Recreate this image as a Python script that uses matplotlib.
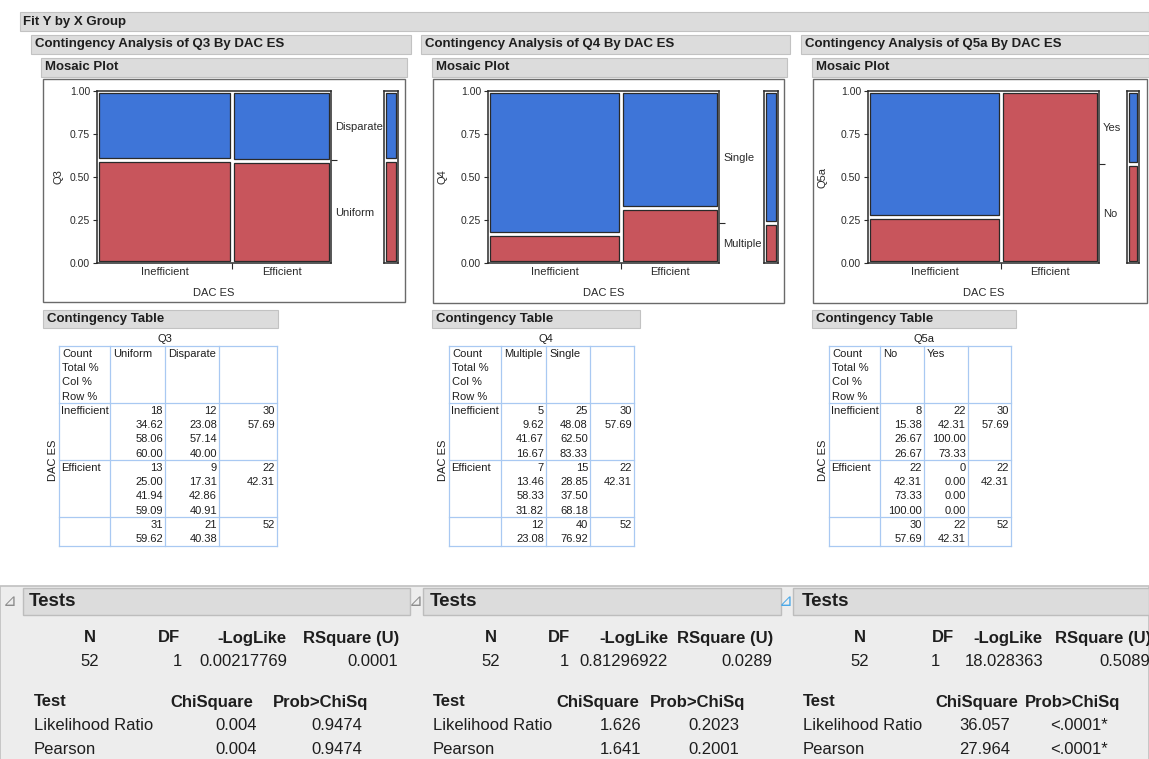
import matplotlib
matplotlib.use('Agg')
import matplotlib.pyplot as plt
from matplotlib.patches import Rectangle
import numpy as np

plt.rcParams['font.family'] = ['Liberation Sans', 'DejaVu Sans']

W, H = 1149, 759

# ---------------- data ----------------
groups = ['Inefficient', 'Efficient']
q3_levels = ['Uniform', 'Disparate']
q3_counts = [[18, 12], [13, 9]]
q4_levels = ['Multiple', 'Single']
q4_counts = [[5, 25], [7, 15]]
q5a_levels = ['No', 'Yes']
q5a_counts = [[8, 22], [22, 0]]
variables = ['Q3', 'Q4', 'Q5a']

tests_n = ['52', '52', '52']
tests_df = ['1', '1', '1']
tests_loglike = ['0.00217769', '0.81296922', '18.028363']
tests_rsq = ['0.0001', '0.0289', '0.5089']
lr_chisq = ['0.004', '1.626', '36.057']
lr_prob = ['0.9474', '0.2023', '<.0001*']
pearson_chisq = ['0.004', '1.641', '27.964']
pearson_prob = ['0.9474', '0.2001', '<.0001*']

BLUE = '#3e75d8'
RED = '#c8555c'
DARK = '#2a2a2a'
HDR = '#dcdcdc'
HDR_EDGE = '#c2c2c2'
GRID = '#a9c9f2'
TXT = '#1e1e1e'

# ---------------- layout (pixels) ----------------
layout = [
    dict(hdr=(31, 411), mhdr=(41, 407), frame=(43, 79, 405, 302), plot=(97, 331),
         marg=(384, 398), ylab=58, cthdr=(43, 278), cols=[59, 110, 165, 219, 277],
         tbar=(23, 410), tri=10, tricol='#8c8c8c', ttx=29,
         n=90, df=169, one=182, ll=287, rsq=399, test=34, chi_h=253, chi_v=257, pr_h=368, pr_v=362),
    dict(hdr=(421, 790), mhdr=(432, 787), frame=(433, 79, 784, 303), plot=(488, 719),
         marg=(764, 778), ylab=442, cthdr=(432, 640), cols=[449, 501, 546, 590, 634],
         tbar=(423, 781), tri=416, tricol='#8c8c8c', ttx=430,
         n=491, df=559, one=569, ll=668, rsq=773, test=433, chi_h=639, chi_v=641, pr_h=745, pr_v=739),
    dict(hdr=(801, 1149), mhdr=(812, 1149), frame=(813, 79, 1147, 303), plot=(868, 1099),
         marg=(1127, 1139), ylab=822, cthdr=(812, 1016), cols=[829, 880, 924, 968, 1011],
         tbar=(793, 1149), tri=786, tricol='#4aa8e8', ttx=802,
         n=860, df=943, one=940, ll=1043, rsq=1151, test=803, chi_h=1018, chi_v=1010, pr_h=1120, pr_v=1108),
]
PLOT_Y0, PLOT_Y1 = 91, 263

fig = plt.figure(figsize=(W / 100, H / 100), dpi=100)
fig.patch.set_facecolor('white')
bg = fig.add_axes([0, 0, 1, 1])
bg.set_xlim(0, W)
bg.set_ylim(H, 0)
bg.axis('off')


def rect(x0, y0, x1, y1, fc=HDR, ec=HDR_EDGE, lw=0.8, z=1):
    bg.add_patch(Rectangle((x0, y0), x1 - x0, y1 - y0, facecolor=fc, edgecolor=ec,
                           linewidth=lw, zorder=z))


def txt(x, y, s, size=8, weight='normal', ha='left', color=TXT, rot=0, family=None):
    kw = {}
    if family:
        kw['family'] = family
    bg.text(x, y, s, fontsize=size, fontweight=weight, ha=ha, va='center',
            color=color, rotation=rot, zorder=5, **kw)


def fig_rect(x0, y0, x1, y1):
    return [x0 / W, 1 - y1 / H, (x1 - x0) / W, (y1 - y0) / H]


# top header
rect(20, 12, 1149, 31)
txt(23, 21.5, 'Fit Y by X Group', 9.5, 'bold')

all_levels = [q3_levels, q4_levels, q5a_levels]
all_counts = [q3_counts, q4_counts, q5a_counts]
TS = 8  # table font size

for p, (var, levels, counts) in enumerate(zip(variables, all_levels, all_counts)):
    L = layout[p]
    counts = np.array(counts, dtype=float)
    N = counts.sum()
    row_tot = counts.sum(axis=1)
    col_tot = counts.sum(axis=0)

    # headers
    rect(L['hdr'][0], 35, L['hdr'][1], 54)
    txt(L['hdr'][0] + 4, 44.5, f'Contingency Analysis of {var} By DAC ES', 9.5, 'bold')
    rect(L['mhdr'][0], 58, L['mhdr'][1], 77)
    txt(L['mhdr'][0] + 4, 67.5, 'Mosaic Plot', 9.5, 'bold')
    fx0, fy0, fx1, fy1 = L['frame']
    rect(fx0, fy0, fx1, fy1, fc='white', ec='#6a6a6a', lw=1.0)

    # mosaic axes
    px0, px1 = L['plot']
    ax = fig.add_axes(fig_rect(px0, PLOT_Y0, px1, PLOT_Y1))
    ax.set_xlim(0, 1)
    ax.set_ylim(0, 1)
    ax.set_facecolor('white')
    for s in ax.spines.values():
        s.set_color(DARK)
        s.set_linewidth(1.1)
    gx = 2.0 / (px1 - px0)
    gy = 2.0 / (PLOT_Y1 - PLOT_Y0)
    widths = row_tot / N
    lefts = np.concatenate([[0], np.cumsum(widths)[:-1]])
    for g in range(len(groups)):
        props = counts[g] / row_tot[g]
        bottoms = np.concatenate([[0], np.cumsum(props)[:-1]])
        for k in range(len(levels)):
            if counts[g, k] <= 0:
                continue
            ax.bar(lefts[g] + gx, props[k] - 2 * gy, width=widths[g] - 2 * gx,
                   bottom=bottoms[k] + gy, align='edge',
                   color=RED if k == 0 else BLUE, edgecolor=DARK, linewidth=0.9)
    ax.set_yticks([0, 0.25, 0.5, 0.75, 1.0])
    ax.set_yticklabels(['0.00', '0.25', '0.50', '0.75', '1.00'])
    ax.tick_params(axis='y', length=3, pad=2, labelsize=7.5, colors=DARK, width=0.8)
    ax.set_xticks(list(np.cumsum(widths)[:-1]))
    ax.set_xticklabels([])
    ax.set_xticks(list(lefts + widths / 2), minor=True)
    ax.set_xticklabels(groups, minor=True)
    ax.tick_params(axis='x', which='major', length=4, colors=DARK, width=0.8)
    ax.tick_params(axis='x', which='minor', length=0, pad=3, labelsize=8, colors=DARK)

    marg = col_tot / N
    mb = np.concatenate([[0], np.cumsum(marg)[:-1]])
    ax2 = ax.twinx()
    ax2.set_ylim(0, 1)
    ax2.set_yticks(list(np.cumsum(marg)[:-1]))
    ax2.set_yticklabels([])
    ax2.set_yticks(list(mb + marg / 2), minor=True)
    ax2.set_yticklabels(levels, minor=True)
    ax2.tick_params(axis='y', which='major', length=4.5, colors=DARK, width=0.8)
    ax2.tick_params(axis='y', which='minor', length=0, pad=3, labelsize=8, colors=DARK)
    for s in ax2.spines.values():
        s.set_visible(False)

    # marginal bar
    mx0, mx1 = L['marg']
    axm = fig.add_axes(fig_rect(mx0, PLOT_Y0, mx1, PLOT_Y1))
    axm.set_xlim(0, 1)
    axm.set_ylim(0, 1)
    axm.set_xticks([])
    axm.set_yticks([])
    for s in axm.spines.values():
        s.set_color(DARK)
        s.set_linewidth(1.1)
    mgx = 2.0 / (mx1 - mx0)
    for k in range(len(levels)):
        axm.bar(mgx, marg[k] - 2 * gy, width=1 - 2 * mgx, bottom=mb[k] + gy, align='edge',
                color=RED if k == 0 else BLUE, edgecolor=DARK, linewidth=0.9)

    txt((px0 + px1) / 2, 293, 'DAC ES', 8, ha='center', color=DARK)
    txt(L['ylab'], (PLOT_Y0 + PLOT_Y1) / 2, var, 8, ha='center', rot=90, color=DARK)

    # contingency table
    rect(L['cthdr'][0], 310, L['cthdr'][1], 328)
    txt(L['cthdr'][0] + 4, 319, 'Contingency Table', 9.5, 'bold')
    cols = L['cols']
    rows = [346, 403, 460, 517, 546]
    for c in cols:
        bg.plot([c, c], [rows[0], rows[-1]], color=GRID, lw=0.9, zorder=3)
    for r in rows:
        bg.plot([cols[0], cols[-1]], [r, r], color=GRID, lw=0.9, zorder=3)
    txt((cols[1] + cols[3]) / 2, 339, var, TS, ha='center')
    txt(cols[0] - 6, 460, 'DAC ES', TS, ha='center', rot=90)
    lh = 14.2
    for i, s in enumerate(['Count', 'Total %', 'Col %', 'Row %']):
        txt(cols[0] + 3, 354 + lh * i, s, TS)
    for k, lev in enumerate(levels):
        txt(cols[k + 1] + 3, 354, lev, TS)
    for g, grp in enumerate(groups):
        base = 411 + 57 * g
        txt(cols[0] + 2, base, grp, TS)
        for k in range(len(levels)):
            vals = [f'{int(counts[g, k])}', f'{100 * counts[g, k] / N:.2f}',
                    f'{100 * counts[g, k] / col_tot[k]:.2f}',
                    f'{100 * counts[g, k] / row_tot[g]:.2f}']
            for i, v in enumerate(vals):
                txt(cols[k + 2] - 2, base + lh * i, v, TS, ha='right')
        txt(cols[4] - 2, base, f'{int(row_tot[g])}', TS, ha='right')
        txt(cols[4] - 2, base + lh, f'{100 * row_tot[g] / N:.2f}', TS, ha='right')
    for k in range(len(levels)):
        txt(cols[k + 2] - 2, 525, f'{int(col_tot[k])}', TS, ha='right')
        txt(cols[k + 2] - 2, 525 + lh, f'{100 * col_tot[k] / N:.2f}', TS, ha='right')
    txt(cols[4] - 2, 525, f'{int(N)}', TS, ha='right')

# ---------------- tests section ----------------
FS = 12
rect(0, 586, W, H + 2, fc='#ededed', ec='#c0c0c0', lw=1.2, z=0.5)
for p in range(3):
    L = layout[p]
    rect(L['tbar'][0], 588, L['tbar'][1], 615, fc=HDR, ec='#bdbdbd', lw=1.0)
    txt(L['tri'], 601, '\u22bf', 12, color=L['tricol'], ha='center', family='DejaVu Sans')
    txt(L['ttx'], 601, 'Tests', 13.5, 'bold')
    txt(L['n'], 638, 'N', FS, 'bold', ha='center')
    txt(L['df'], 638, 'DF', FS, 'bold', ha='center')
    txt(L['ll'], 638, '-LogLike', FS, 'bold', ha='right')
    txt(L['rsq'], 638, 'RSquare (U)', FS, 'bold', ha='right')
    txt(L['n'], 662, tests_n[p], FS, ha='center')
    txt(L['one'], 662, tests_df[p], FS, ha='right')
    txt(L['ll'], 662, tests_loglike[p], FS, ha='right')
    txt(L['rsq'] - 1, 662, tests_rsq[p], FS, ha='right')
    txt(L['test'], 702, 'Test', FS, 'bold')
    txt(L['chi_h'], 702, 'ChiSquare', FS, 'bold', ha='right')
    txt(L['pr_h'], 702, 'Prob>ChiSq', FS, 'bold', ha='right')
    txt(L['test'], 726, 'Likelihood Ratio', FS)
    txt(L['chi_v'], 726, lr_chisq[p], FS, ha='right')
    txt(L['pr_v'], 726, lr_prob[p], FS, ha='right')
    txt(L['test'], 750, 'Pearson', FS)
    txt(L['chi_v'], 750, pearson_chisq[p], FS, ha='right')
    txt(L['pr_v'], 750, pearson_prob[p], FS, ha='right')

fig.savefig('out.png', dpi=100, facecolor='white')
